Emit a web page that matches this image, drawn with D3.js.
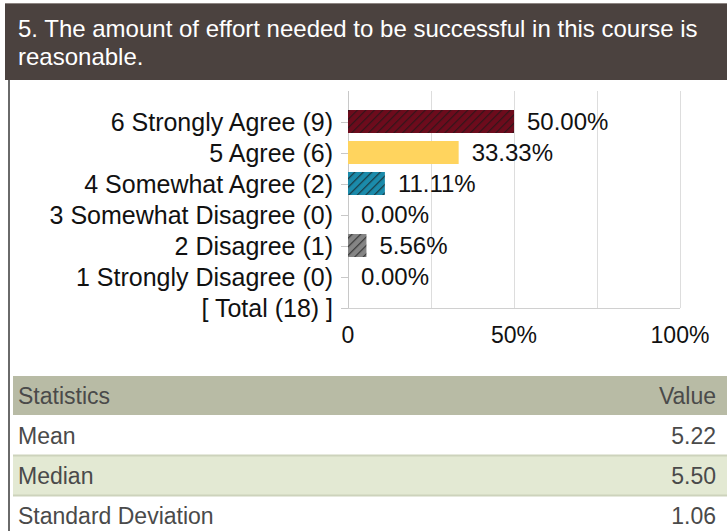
<!DOCTYPE html>
<html>
<head>
<meta charset="utf-8">
<script src="https://cdn.jsdelivr.net/npm/d3@7"></script>
<style>
  body { margin: 0; background: #fff; }
  svg { display: block; font-family: "Liberation Sans", Arial, sans-serif; }
</style>
</head>
<body>
<svg id="chart" width="727" height="531"></svg>
<script>
const titleLines = ["5. The amount of effort needed to be successful in this course is", "reasonable."]
const answers = ["6 Strongly Agree", "5 Agree", "4 Somewhat Agree", "3 Somewhat Disagree", "2 Disagree", "1 Strongly Disagree"]
const counts = [9, 6, 2, 0, 1, 0]
const total = 18
const percents = [50.00, 33.33, 11.11, 0.00, 5.56, 0.00]
const barColors = ["#6d0b1c", "#ffd45e", "#1b8bab", "#cccccc", "#858585", "#cccccc"]
const hatched = [true, false, true, false, true, false]
const xTicks = [0, 25, 50, 75, 100]
const xTickLabels = {0: "0", 50: "50%", 100: "100%"}
const statNames = ["Mean", "Median", "Standard Deviation"]
const statValues = ["5.22", "5.50", "1.06"]

const svg = d3.select('#chart')
const W = 727

// header bar
svg.append("rect").attr("x", 5).attr("y", 3).attr("width", W - 5).attr("height", 1).attr("fill", "#8c8481")
svg.append("rect").attr("x", 5).attr("y", 4).attr("width", W - 5).attr("height", 76).attr("fill", "#4b423f")
svg.append("rect").attr("x", 8).attr("y", 80).attr("width", 2).attr("height", 451).attr("fill", "#6a6a6a")

svg.selectAll("text.title")
    .data(titleLines)
    .enter().append("text")
    .attr("class", "title")
    .attr("x", 18)
    .attr("y", (d, i) => 37 + i * 28)
    .attr("fill", "#ffffff")
    .style("font-size", "24px")
    .text(d => d)

// hatch patterns
const defs = svg.append("defs")
barColors.forEach(function (c, i) {
    if (!hatched[i]) return
    const p = defs.append("pattern")
        .attr("id", "hatch-" + i)
        .attr("patternUnits", "userSpaceOnUse")
        .attr("width", 6).attr("height", 6)
        .attr("patternTransform", "rotate(45)")
    p.append("rect").attr("width", 6).attr("height", 6).attr("fill", c)
    p.append("line").attr("x1", 0).attr("y1", 0).attr("x2", 0).attr("y2", 6)
        .attr("stroke", "#1a1a1a").attr("stroke-opacity", 0.7).attr("stroke-width", 2.5)
})

const labels = answers.map((a, i) => a + " (" + counts[i] + ")").concat(["[ Total (" + total + ") ]"])

const x = d3.scaleLinear().domain([0, 100]).range([348, 680])
const y = d3.scalePoint().domain(labels).range([122, 308])
const plotTop = 91

const grid = svg.append("g")
grid.selectAll("line")
    .data(xTicks)
    .enter().append("line")
    .attr("x1", d => x(d)).attr("x2", d => x(d))
    .attr("y1", plotTop).attr("y2", y.range()[1])
    .attr("stroke", d => d === 0 ? "#c8c8c8" : "#dddddd")
    .attr("stroke-width", 1)
    .attr("shape-rendering", "crispEdges")
grid.append("line")
    .attr("x1", x(0) - 7).attr("x2", x(100))
    .attr("y1", y.range()[1]).attr("y2", y.range()[1])
    .attr("stroke", "#d0d0d0")
    .attr("shape-rendering", "crispEdges")

// category ticks + labels
const cats = svg.append("g")
cats.selectAll("line")
    .data(labels)
    .enter().append("line")
    .attr("x1", x(0) - 7).attr("x2", x(0))
    .attr("y1", d => y(d)).attr("y2", d => y(d))
    .attr("stroke", "#c8c8c8")
    .attr("shape-rendering", "crispEdges")
cats.selectAll("text")
    .data(labels)
    .enter().append("text")
    .attr("x", 333)
    .attr("y", d => y(d))
    .attr("dy", "0.35em")
    .attr("text-anchor", "end")
    .attr("fill", "#111")
    .style("font-size", "25px")
    .text(d => d)

// bars
const barH = 23
svg.append("g").selectAll("rect")
    .data(percents)
    .enter().append("rect")
    .attr("x", x(0))
    .attr("y", (d, i) => y(labels[i]) - barH / 2 - 0.5)
    .attr("width", d => x(d) - x(0))
    .attr("height", barH)
    .attr("fill", (d, i) => hatched[i] ? "url(#hatch-" + i + ")" : barColors[i])

svg.append("g").selectAll("text")
    .data(percents)
    .enter().append("text")
    .attr("x", d => x(d) + 13)
    .attr("y", (d, i) => y(labels[i]))
    .attr("dy", "0.35em")
    .attr("fill", "#111")
    .style("font-size", "24px")
    .text(d => d.toFixed(2) + "%")

// x tick labels
svg.append("g").selectAll("text")
    .data(Object.keys(xTickLabels).map(Number))
    .enter().append("text")
    .attr("x", d => x(d))
    .attr("y", 343)
    .attr("text-anchor", "middle")
    .attr("fill", "#111")
    .style("font-size", "23px")
    .text(d => xTickLabels[d])

// statistics table
const rowY = [415, 455, 495]
const table = svg.append("g")
table.append("rect").attr("x", 13).attr("y", 376).attr("width", W - 13).attr("height", 39).attr("fill", "#b8bba5")
table.append("rect").attr("x", 13).attr("y", 455).attr("width", W - 13).attr("height", 40).attr("fill", "#e3e9d3")
table.selectAll("line.sep")
    .data([455, 495])
    .enter().append("line")
    .attr("x1", 13).attr("x2", W)
    .attr("y1", d => d + 0.5).attr("y2", d => d + 0.5)
    .attr("stroke", "#cdd3bc").attr("stroke-width", 2)

table.append("text").attr("x", 18).attr("y", 396).attr("dy", "0.35em")
    .attr("fill", "#4a4a4a").style("font-size", "23px").text("Statistics")
table.append("text").attr("x", 716).attr("y", 396).attr("dy", "0.35em").attr("text-anchor", "end")
    .attr("fill", "#4a4a4a").style("font-size", "23px").text("Value")

table.selectAll("text.name")
    .data(statNames)
    .enter().append("text")
    .attr("class", "name")
    .attr("x", 18).attr("y", (d, i) => rowY[i] + 21).attr("dy", "0.35em")
    .attr("fill", "#4a4a4a").style("font-size", "23px")
    .text(d => d)
table.selectAll("text.val")
    .data(statValues)
    .enter().append("text")
    .attr("class", "val")
    .attr("x", 716).attr("y", (d, i) => rowY[i] + 21).attr("dy", "0.35em")
    .attr("text-anchor", "end")
    .attr("fill", "#4a4a4a").style("font-size", "23px")
    .text(d => d)
</script>
</body>
</html>
